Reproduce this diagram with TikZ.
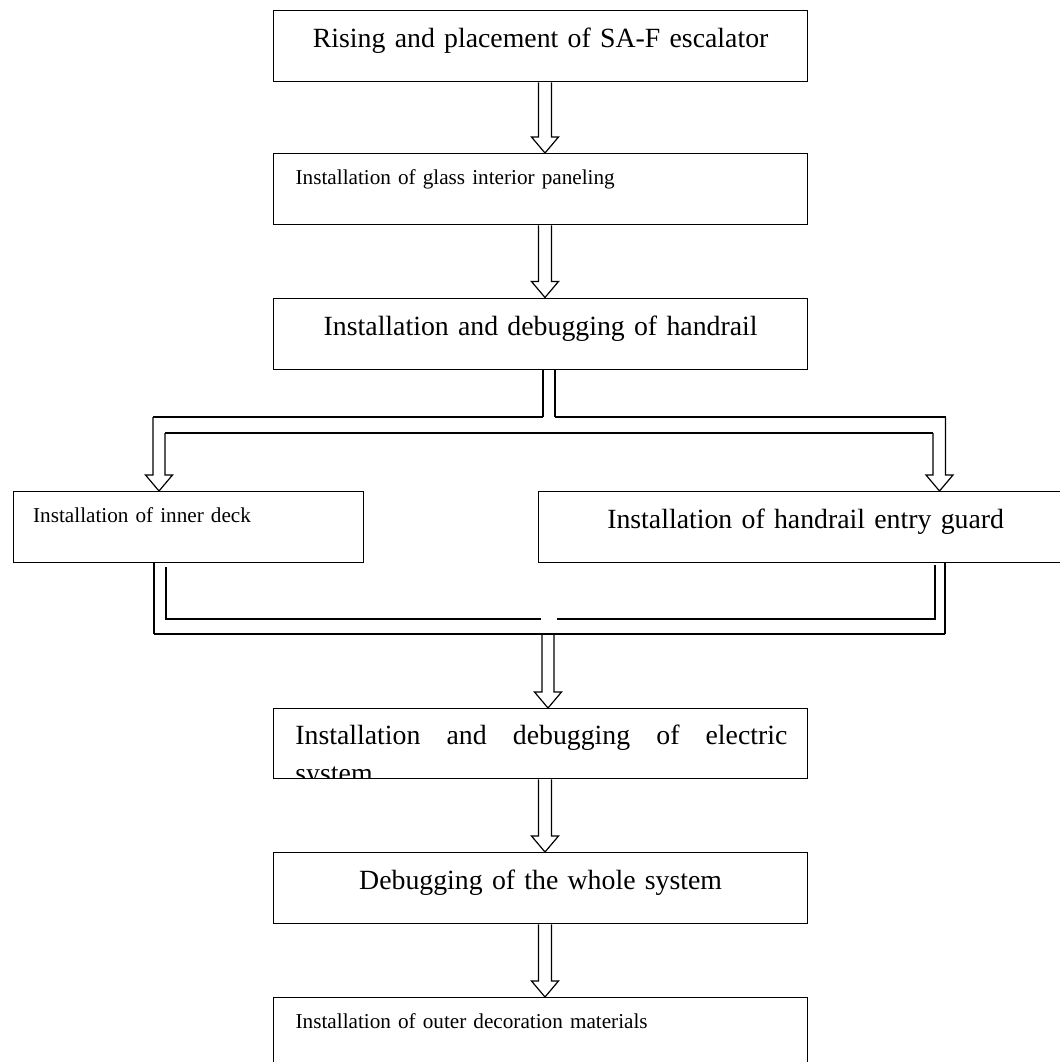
\documentclass[tikz,border=0pt]{standalone}
\usepackage{fontspec}
\setmainfont{Liberation Serif}
\usetikzlibrary{calc}

% hollow block arrow: left shaft top, right shaft top, tip
\newcommand{\blockarrow}[3]{%
  \draw[hollow] let \p1=(#1), \p2=(#2), \p3=(#3) in
  (\p1)--(\x1,\y3+8pt)--(\x3-6.75pt,\y3+8pt)--(\p3)
  --(\x3+6.75pt,\y3+8pt)--(\x2,\y3+8pt)--(\p2);}
\newcommand{\colarrow}[2]{\blockarrow{#1.south -| spineL}{#1.south -| spineR}{#2.north -| spine}}

\begin{document}
\begin{tikzpicture}[x=0.5pt,y=-0.5pt,
  stepbox/.style={draw, line width=0.65pt, anchor=north west, inner ysep=0pt},
  wide/.style={inner xsep=11pt, text width=245pt},
  bigtext/.style={font=\fontsize{13.9}{17}\selectfont, text height=18.5pt, text depth=17pt},
  smalltext/.style={font=\fontsize{10.6}{13}\selectfont, text height=15.25pt, text depth=20.25pt},
  hollow/.style={line width=0.6pt},
  heavy/.style={line width=1.3pt},
  light/.style={line width=0.65pt}]
\path[use as bounding box, fill=white] (0,0) rectangle (1060,1062);
\clip (0,0) rectangle (1060,1062);

\node[stepbox, wide, bigtext, align=center] (raise) at (273,10) {Rising and placement of SA-F escalator};
\node[stepbox, wide, smalltext, align=left] (glass) at (273,153) {Installation of glass interior paneling};
\node[stepbox, wide, bigtext, align=center] (handrail) at (273,297.5) {Installation and debugging of handrail};
\node[stepbox, smalltext, inner xsep=10pt, text width=155pt, align=left] (deck) at (12.5,491) {Installation of inner deck};
\node[stepbox, wide, bigtext, align=center] (guard) at (538,491) {Installation of handrail entry guard};
\node[stepbox, wide, text height=18pt, text depth=17pt] (electric) at (273,708) {};
\begin{scope}
\clip ($(electric.south west)+(1,-1.5)$) rectangle ($(electric.north east)+(-1,1)$);
\node[anchor=base west, inner sep=0pt, text width=246pt, align=left,
  font=\fontsize{13.9}{19}\selectfont] (electrictext)
  at ($(electric.north west)+(22,36)$)
  {Installation\hfill and\hfill debugging\hfill of\hfill electric\\system};
\end{scope}
\node[stepbox, wide, bigtext, align=center] (whole) at (273,852) {Debugging of the whole system};
\node[stepbox, wide, smalltext, align=left] (outer) at (273,997) {Installation of outer decoration materials};

\coordinate (spine) at (545,0);
\coordinate (spineL) at (538.5,0);
\coordinate (spineR) at (551.5,0);

% split below handrail
\coordinate (stemL) at (543,417);
\coordinate (stemR) at (555,417);
\coordinate (barL) at (153,417);
\coordinate (barR) at (945.5,417);
\coordinate (lowL) at (165,433);
\coordinate (lowR) at (933,433);
\coordinate (armL) at (159,0);
\coordinate (armR) at (939.5,0);

% join below deck and guard
\coordinate (innerL) at (166,619);
\coordinate (innerR) at (935,619);
\coordinate (gapL) at (541,619);
\coordinate (gapR) at (557,619);
\coordinate (outerL) at (154,634);
\coordinate (outerR) at (945,634);
\coordinate (mergeL) at (542,634);
\coordinate (mergeR) at (554,634);
\coordinate (merge) at (548,0);

\colarrow{raise}{glass}
\colarrow{glass}{handrail}

\draw[heavy] (handrail.south -| stemL) -- (stemL);
\draw[heavy] (handrail.south -| stemR) -- (stemR);
\draw[light] (stemL) -- (barL);
\draw[light] (stemR) -- (barR);
\draw[heavy] (lowL) -- (lowR);
\blockarrow{barL}{lowL}{deck.north -| armL}
\blockarrow{lowR}{barR}{guard.north -| armR}

\draw[heavy] ($(deck.south -| innerL)+(0,4)$) -- (innerL) -- (gapL);
\draw[heavy] (gapR) -- (innerR) -- ($(guard.south -| innerR)+(0,2)$);
\draw[heavy] (deck.south -| outerL) -- (outerL);
\draw[light] (outerL) -- (outerR);
\draw[heavy] (outerR) -- (guard.south -| outerR);
\blockarrow{mergeL}{mergeR}{electric.north -| merge}

\colarrow{electric}{whole}
\colarrow{whole}{outer}
\end{tikzpicture}
\end{document}
